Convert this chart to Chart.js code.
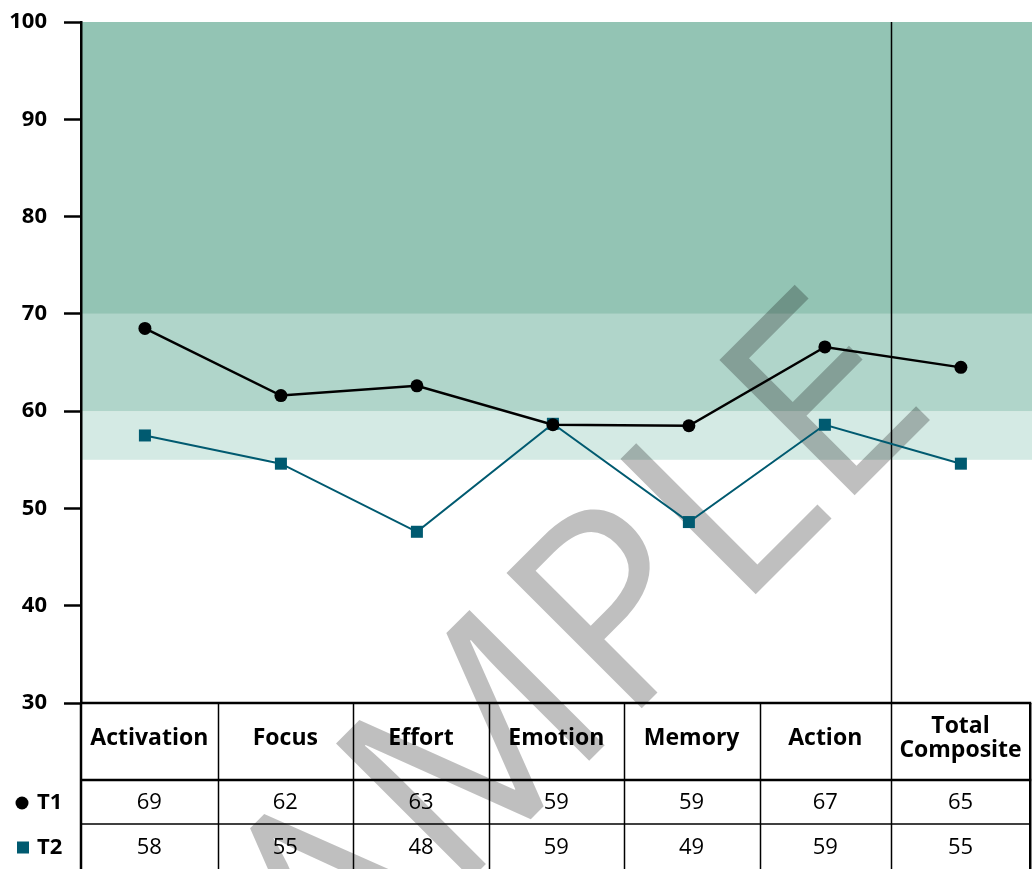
<!DOCTYPE html>
<html>
<head>
<meta charset="utf-8">
<style>
  body { margin: 0; background: #fff; }
  #wrap { width: 1032px; height: 869px; position: relative; }
</style>
</head>
<body>
<div id="wrap">
  <canvas id="myChart"></canvas>
</div>

<script src="https://cdn.jsdelivr.net/npm/chart.js"></script>

<script>
  // values
  const categories = ['Activation', 'Focus', 'Effort', 'Emotion', 'Memory', 'Action', ['Total', 'Composite']];
  const t1Values = [68.5, 61.6, 62.6, 58.6, 58.5, 66.6, 64.5];
  const t2Values = [57.5, 54.6, 47.6, 58.7, 48.6, 58.6, 54.6];
  const t1Labels = ['69', '62', '63', '59', '59', '67', '65'];
  const t2Labels = ['58', '55', '48', '59', '49', '59', '55'];
  const bandLimits = [55, 60, 70, 100];
  const yTicks = [30, 40, 50, 60, 70, 80, 90, 100];

  const bandColors = ['#d4eae4', '#b0d5ca', '#93c4b4'];
  const teal = '#005a70';
  const FONT = '"Open Sans", "Noto Sans", sans-serif';

  // column edges in x-value space (table and divider)
  const colEdges = [-0.47, 0.535, 1.53, 2.53, 3.52, 4.52, 5.485, 6.51];

  const bandsPlugin = {
    id: 'bands',
    beforeDraw(chart) {
      const { ctx, chartArea: a, scales: { y } } = chart;
      ctx.save();
      for (let i = 0; i < bandColors.length; i++) {
        const top = y.getPixelForValue(bandLimits[i + 1]);
        const bot = y.getPixelForValue(bandLimits[i]);
        ctx.fillStyle = bandColors[i];
        ctx.fillRect(a.left, top, a.right - a.left, bot - top);
      }
      ctx.restore();
    },
    beforeDatasetsDraw(chart) {
      const { ctx, chartArea: a, scales: { x } } = chart;
      // watermark, placed so the L sits where it does in the original
      ctx.save();
      ctx.font = '268px "Open Sans", sans-serif';
      const u = ctx.measureText('SAMP').width - ctx.measureText('L').actualBoundingBoxLeft;
      const c = Math.SQRT1_2;
      ctx.translate(755 - u * c, 595 + u * c);
      ctx.rotate(-Math.PI / 4);
      ctx.fillStyle = 'rgba(0,0,0,0.25)';
      ctx.textAlign = 'left';
      ctx.textBaseline = 'alphabetic';
      ctx.fillText('SAMPLE', 0, 0);
      ctx.restore();
      // divider before the composite column
      ctx.save();
      ctx.strokeStyle = '#000';
      ctx.lineWidth = 1.5;
      const dx = Math.round(x.getPixelForValue(colEdges[6])) + 0.5;
      ctx.beginPath();
      ctx.moveTo(dx, a.top);
      ctx.lineTo(dx, a.bottom);
      ctx.stroke();
      ctx.restore();
    }
  };

  const tablePlugin = {
    id: 'table',
    afterDraw(chart) {
      const { ctx, chartArea: a, scales: { x } } = chart;
      const top = a.bottom;
      const headBot = top + 77;
      const rowDiv = top + 121;
      const bottom = chart.height;
      const edges = colEdges.map(v => x.getPixelForValue(v));
      const right = edges[edges.length - 1];
      ctx.save();
      ctx.strokeStyle = '#000';
      // verticals
      ctx.lineWidth = 1.5;
      for (let i = 1; i < edges.length - 1; i++) {
        const ex = Math.round(edges[i]) + 0.5;
        ctx.beginPath(); ctx.moveTo(ex, top); ctx.lineTo(ex, bottom); ctx.stroke();
      }
      ctx.lineWidth = 2.5;
      ctx.beginPath(); ctx.moveTo(right, top); ctx.lineTo(right, bottom); ctx.stroke();
      ctx.beginPath(); ctx.moveTo(a.left, top); ctx.lineTo(a.left, bottom); ctx.stroke();
      // horizontals
      ctx.beginPath(); ctx.moveTo(a.left, top); ctx.lineTo(right + 1, top); ctx.stroke();
      ctx.beginPath(); ctx.moveTo(a.left, headBot); ctx.lineTo(right + 1, headBot); ctx.stroke();
      ctx.lineWidth = 1.5;
      ctx.beginPath(); ctx.moveTo(a.left, rowDiv); ctx.lineTo(right, rowDiv); ctx.stroke();

      ctx.fillStyle = '#000';
      ctx.textAlign = 'center';
      ctx.textBaseline = 'middle';
      const midHead = (top + headBot) / 2 - 3;
      const midT1 = (headBot + rowDiv) / 2 + 1;
      const midT2 = (rowDiv + bottom) / 2 + 1;
      categories.forEach((cat, i) => {
        const cx = (edges[i] + edges[i + 1]) / 2;
        ctx.font = 'bold 23px ' + FONT;
        if (Array.isArray(cat)) {
          ctx.fillText(cat[0], cx, midHead - 12);
          ctx.fillText(cat[1], cx, midHead + 12);
        } else {
          ctx.fillText(cat, cx, midHead);
        }
        ctx.font = '22px ' + FONT;
        ctx.fillText(t1Labels[i], cx, midT1);
        ctx.fillText(t2Labels[i], cx, midT2);
      });

      // row legend
      ctx.textAlign = 'left';
      ctx.font = 'bold 22px ' + FONT;
      ctx.beginPath(); ctx.arc(22, midT1, 6.5, 0, Math.PI * 2); ctx.fill();
      ctx.fillText('T1', 37, midT1);
      ctx.fillStyle = teal;
      ctx.fillRect(17, midT2 - 6, 12, 12);
      ctx.fillStyle = '#000';
      ctx.fillText('T2', 37, midT2);
      ctx.restore();
    }
  };

  const ctx = document.getElementById('myChart');
  new Chart(ctx, {
    type: 'line',
    data: {
      datasets: [{
        label: 'T1',
        data: t1Values.map((v, i) => ({ x: i, y: v })),
        borderColor: '#000',
        backgroundColor: '#000',
        borderWidth: 2.5,
        pointRadius: 6.5,
        pointStyle: 'circle',
        pointBorderWidth: 0
      }, {
        label: 'T2',
        data: t2Values.map((v, i) => ({ x: i, y: v })),
        borderColor: teal,
        backgroundColor: teal,
        borderWidth: 2,
        pointRadius: 8.5,
        pointStyle: 'rect',
        pointBorderWidth: 0
      }]
    },
    options: {
      responsive: true,
      maintainAspectRatio: false,
      animation: false,
      layout: { autoPadding: false, padding: { top: 22, bottom: 166, left: 0, right: 0 } },
      plugins: { legend: { display: false }, tooltip: { enabled: false } },
      scales: {
        x: { type: 'linear', display: false, min: colEdges[0], max: 6.523 },
        y: {
          min: 30, max: 100,
          afterFit(scale) { scale.width = 81; scale.paddingTop = 0; scale.paddingBottom = 0; },
          afterBuildTicks(scale) { scale.ticks = yTicks.map(v => ({ value: v })); },
          ticks: { color: '#000', padding: 17, font: { family: FONT, size: 22, weight: 'bold' } },
          grid: { drawOnChartArea: false, drawTicks: true, tickLength: 17, tickColor: '#000', tickWidth: 2.5 },
          border: { color: '#000', width: 2.5 }
        }
      }
    },
    plugins: [bandsPlugin, tablePlugin]
  });
</script>
</body>
</html>
